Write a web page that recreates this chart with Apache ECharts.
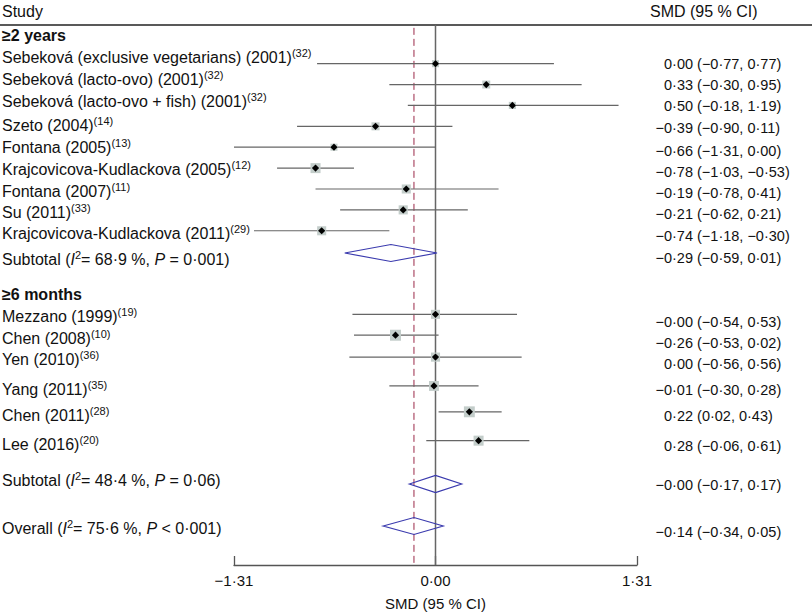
<!DOCTYPE html>
<html>
<head>
<meta charset="utf-8">
<script src="https://cdn.jsdelivr.net/npm/echarts@6/dist/echarts.min.js"></script>
<style>
  html, body { margin: 0; padding: 0; background: #fff; }
  #chart { width: 812px; height: 616px; }
</style>
</head>
<body>
<div id="chart"></div>
<script>
// data
const groupNames = ['≥2 years', '≥6 months'];
const groupSizes = [9, 6];
const studies = [
  'Sebeková (exclusive vegetarians) (2001)', 'Sebeková (lacto-ovo) (2001)',
  'Sebeková (lacto-ovo + fish) (2001)', 'Szeto (2004)', 'Fontana (2005)',
  'Krajcovicova-Kudlackova (2005)', 'Fontana (2007)', 'Su (2011)',
  'Krajcovicova-Kudlackova (2011)',
  'Mezzano (1999)', 'Chen (2008)', 'Yen (2010)', 'Yang (2011)', 'Chen (2011)', 'Lee (2016)'
];
const refs = ['32', '32', '32', '14', '13', '12', '11', '33', '29', '19', '10', '36', '35', '28', '20'];
const smd = [0.00, 0.33, 0.50, -0.39, -0.66, -0.78, -0.19, -0.21, -0.74, -0, -0.26, 0.00, -0.01, 0.22, 0.28];
const lower = [-0.77, -0.30, -0.18, -0.90, -1.31, -1.03, -0.78, -0.62, -1.18, -0.54, -0.53, -0.56, -0.30, 0.02, -0.06];
const upper = [0.77, 0.95, 1.19, 0.11, 0.00, -0.53, 0.41, 0.21, -0.30, 0.53, 0.02, 0.56, 0.28, 0.43, 0.61];
const weights = [4.9, 6.2, 5.0, 6.3, 4.8, 9.8, 8.0, 8.1, 8.0, 8.0, 11.8, 8.1, 9.6, 11.6, 9.8];

const subSmd = [-0.29, -0];
const subLower = [-0.59, -0.17];
const subUpper = [0.01, 0.17];
const subI2 = [68.9, 48.4];
const subP = ['= 0·001', '= 0·06'];
const overall = [-0.14, -0.34, 0.05];
const overallI2 = 75.6;
const overallP = '< 0·001';
const xTicks = [-1.31, 0, 1.31];

// layout (pixel rows; y axis runs in pixels)
const headerLineY = 25;
const axisY = 568;
const rowY = [64, 85, 106, 127, 148, 169, 190, 211, 232, 316, 337, 359, 388, 414, 443];
const leftY = [57, 79, 101, 125, 147, 169, 191, 212, 233, 316, 338, 359, 389, 415, 444];
const rightY = [64, 85, 106, 128, 151, 172, 193, 214, 236, 322, 343, 364, 390, 416, 446];
const groupY = [35, 294];
const subY = [253, 484], subLeftY = [259, 480], subRightY = [258, 485];
const overallRowY = 526, overallLeftY = 528, overallRightY = 532;

const FONT = '"Liberation Sans", Arial, sans-serif';
const fmt = v => ((v < 0 || Object.is(v, -0)) ? '−' : '') + Math.abs(v).toFixed(2).replace('.', '·');
const dec = v => String(v).replace('.', '·');

const rich = {
  n: { fontSize: 16, fontFamily: FONT, fill: '#111', lineHeight: 20 },
  i: { fontSize: 16, fontFamily: FONT, fill: '#111', lineHeight: 20, fontStyle: 'italic' },
  s: { fontSize: 11, fontFamily: FONT, fill: '#111', lineHeight: 12, verticalAlign: 'top' },
  b: { fontSize: 16, fontFamily: FONT, fill: '#111', lineHeight: 20, fontWeight: 'bold' }
};

function leftText(text, y) {
  return { type: 'text', x: 2, y: y, z: 10,
    style: { text: text, rich: rich, verticalAlign: 'middle', align: 'left' } };
}
function rightText(mid, lo, hi, y) {
  const s = fmt(mid) + ' (' + fmt(lo) + ', ' + fmt(hi) + ')';
  const neg = s.charAt(0) === '−';
  return { type: 'text', x: neg ? 655.5 : 664, y: y, z: 10,
    style: { text: s, fontSize: 14.5, fontFamily: FONT, fill: '#111', verticalAlign: 'middle', align: 'left' } };
}

const graphics = [
  leftText('{n|Study}', 11),
  { type: 'text', x: 650, y: 11, style: { text: 'SMD (95 % CI)', fontSize: 16, fontFamily: FONT, fill: '#111', verticalAlign: 'middle' } },
  { type: 'line', shape: { x1: 0, y1: headerLineY, x2: 812, y2: headerLineY }, style: { stroke: '#222', lineWidth: 1.5 } }
];
let k = 0;
groupNames.forEach((g, gi) => {
  graphics.push(leftText('{b|' + g + '}', groupY[gi]));
  for (let j = 0; j < groupSizes[gi]; j++, k++) {
    graphics.push(leftText('{n|' + studies[k] + '}{s|(' + refs[k] + ')}', leftY[k]));
    graphics.push(rightText(smd[k], lower[k], upper[k], rightY[k]));
  }
  graphics.push(leftText('{n|Subtotal (}{i|I}{s|2}{n|= ' + dec(subI2[gi]) + ' %, }{i|P}{n| ' + subP[gi] + ')}', subLeftY[gi]));
  graphics.push(rightText(subSmd[gi], subLower[gi], subUpper[gi], subRightY[gi]));
});
graphics.push(leftText('{n|Overall (}{i|I}{s|2}{n|= ' + dec(overallI2) + ' %, }{i|P}{n| ' + overallP + ')}', overallLeftY));
graphics.push(rightText(overall[0], overall[1], overall[2], overallRightY));

const studyData = smd.map((v, i) => [v, lower[i], upper[i], rowY[i], weights[i]]);
const diamondData = subSmd.map((v, i) => [v, subLower[i], subUpper[i], subY[i]])
  .concat([[overall[0], overall[1], overall[2], overallRowY]]);

const chart = echarts.init(document.getElementById('chart'), null, { renderer: 'svg' });
chart.setOption({
  backgroundColor: '#fff',
  animation: false,
  grid: { left: 234, right: 175, top: 0, bottom: 616 - axisY },
  xAxis: {
    type: 'value', position: 'bottom', min: xTicks[0], max: xTicks[2], interval: xTicks[2],
    name: 'SMD (95 % CI)', nameLocation: 'middle', nameGap: 31,
    nameTextStyle: { fontSize: 15, fontFamily: FONT, color: '#111' },
    axisLine: { onZero: false, lineStyle: { color: '#555', width: 1.3 } },
    axisTick: { show: true, inside: true, length: 9, lineStyle: { color: '#555', width: 1.3 } },
    axisLabel: { fontSize: 15, fontFamily: FONT, color: '#111', margin: 8, formatter: v => fmt(Math.round(v * 100) / 100) },
    splitLine: { show: false }
  },
  yAxis: { type: 'value', min: 0, max: axisY, inverse: true, show: false },
  graphic: graphics,
  series: [
    {
      type: 'line', z: 1, symbol: 'none', silent: true,
      data: [[0, headerLineY], [0, axisY]],
      lineStyle: { color: '#666', width: 1.5 }
    },
    {
      type: 'line', z: 1, symbol: 'none', silent: true,
      data: [[overall[0], headerLineY + 3], [overall[0], axisY]],
      lineStyle: { color: '#9a2848', width: 1, type: [7, 4] }
    },
    {
      type: 'custom', z: 3, data: studyData,
      renderItem: (params, api) => {
        const y = api.value(3);
        const pLo = api.coord([api.value(1), y]);
        const pHi = api.coord([api.value(2), y]);
        const pM = api.coord([api.value(0), y]);
        const s = 3.2 * Math.sqrt(api.value(4));
        const d = 3.6;
        return { type: 'group', children: [
          { type: 'line', shape: { x1: pLo[0], y1: pLo[1], x2: pHi[0], y2: pHi[1] }, style: { stroke: '#666', lineWidth: 1.2 } },
          { type: 'rect', shape: { x: pM[0] - s / 2, y: pM[1] - s / 2, width: s, height: s }, style: { fill: '#c3cdca' } },
          { type: 'polygon', shape: { points: [[pM[0] - d, pM[1]], [pM[0], pM[1] - d], [pM[0] + d, pM[1]], [pM[0], pM[1] + d]] }, style: { fill: '#000' } }
        ] };
      }
    },
    {
      type: 'custom', z: 3, data: diamondData,
      renderItem: (params, api) => {
        const y = api.value(3);
        const pLo = api.coord([api.value(1), y]);
        const pHi = api.coord([api.value(2), y]);
        const pM = api.coord([api.value(0), y]);
        const h = 8.5;
        return {
          type: 'polygon',
          shape: { points: [[pLo[0], y], [pM[0], y - h], [pHi[0], y], [pM[0], y + h]] },
          style: { fill: 'none', stroke: '#3a3aae', lineWidth: 1.2 }
        };
      }
    }
  ]
});
</script>
</body>
</html>
